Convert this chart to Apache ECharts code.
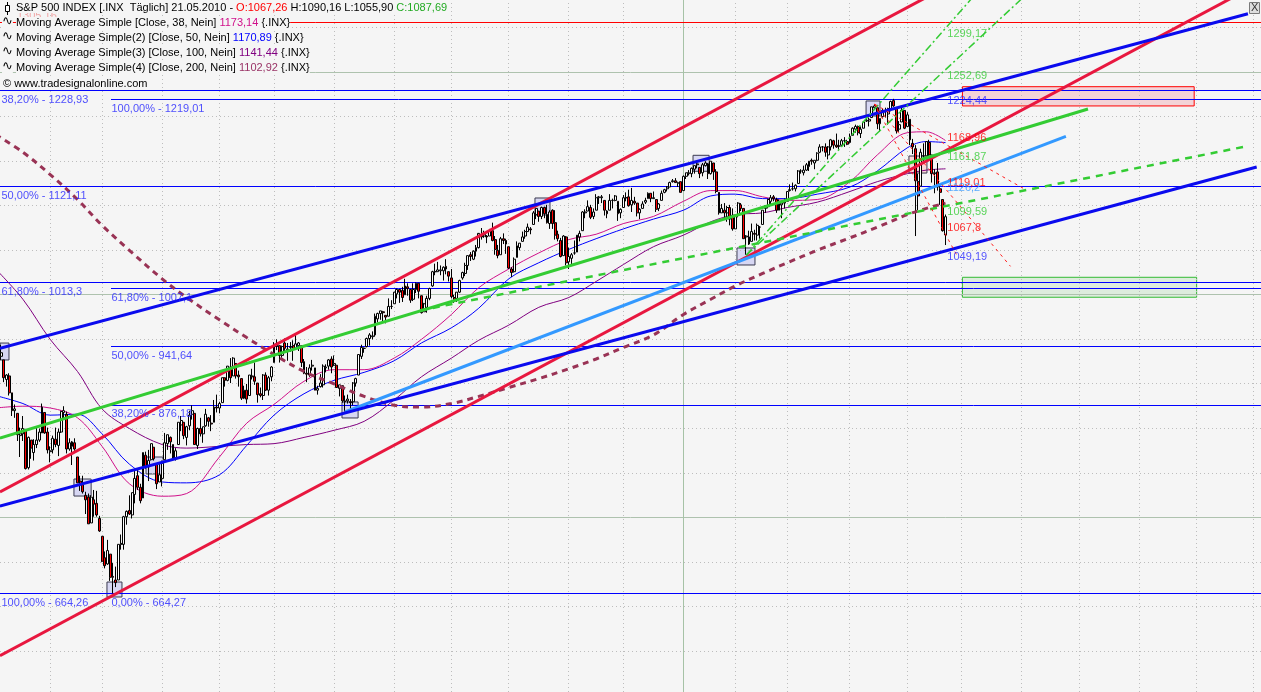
<!DOCTYPE html>
<html><head><meta charset="utf-8">
<script src="https://cdn.jsdelivr.net/npm/echarts@6/dist/echarts.min.js"></script>
<style>html,body{margin:0;padding:0;background:#f5f5f5}#c{width:1261px;height:692px}</style>
</head><body><div id="c"></div><script>
// ---- DATA ----
// daily bars from 2009-01-02, rows [open, high, low, close]
const ohlc = [
[903,934,899,932],[929,936,919,927],[931,944,927,935],[927,927,902,907],[905,911,897,910],[909,912,887,890],[890,890,864,870],[870,877,862,872],[867,867,836,843],[842,851,818,844],
[844,864,836,850],[849,849,804,805],[806,841,804,840],[837,837,816,828],[823,838,814,832],[832,852,828,837],[837,850,835,846],[845,878,845,874],[868,868,844,845],[846,851,822,826],
[824,830,812,825],[826,842,822,839],[838,851,829,832],[831,850,819,846],[846,870,845,869],[868,875,861,870],[866,869,822,827],[827,839,825,834],[830,836,809,835],[834,839,825,827],
[818,818,789,789],[791,797,780,788],[787,797,777,779],[775,779,754,770],[773,777,743,743],[744,775,744,773],[770,781,751,765],[766,780,751,753],[749,752,734,735],[729,729,700,701],
[705,712,693,696],[698,725,697,713],[709,709,679,683],[684,699,665,683],[680,695,672,677],[680,720,680,720],[720,731,714,721],[720,752,714,751],[751,758,742,757],[758,775,753,754],
[753,778,749,778],[776,804,766,794],[797,803,781,784],[784,788,766,769],[772,823,772,823],[820,824,805,806],[807,826,791,814],[815,833,814,833],[829,829,814,816],[810,810,782,788],
[790,810,790,798],[794,814,785,811],[815,845,815,834],[833,843,826,843],[840,841,822,835],[832,832,814,816],[817,828,814,825],[832,857,832,857],[854,864,847,859],[857,857,838,842],
[840,853,831,852],[853,870,848,865],[866,876,860,870],[867,867,832,832],[831,851,827,850],[850,862,841,844],[844,852,834,852],[853,872,852,866],[862,863,852,858],[856,865,847,855],
[857,882,857,874],[874,888,868,873],[873,880,867,878],[879,907,879,907],[907,907,897,904],[904,920,903,920],[919,929,901,907],[909,930,909,929],[923,923,906,909],[910,915,897,908],
[906,906,882,884],[884,898,883,893],[893,900,878,883],[887,910,887,910],[909,917,905,908],[908,924,899,903],[901,901,879,888],[889,896,885,887],[887,911,882,910],[910,913,892,893],
[893,909,887,907],[908,920,903,919],[924,947,924,943],[942,950,938,945],[943,943,924,932],[932,943,928,942],[946,951,935,940],[938,946,926,939],[941,947,936,942],[943,949,926,939],
[940,956,939,945],[943,947,937,946],[943,943,919,924],[925,928,911,912],[912,919,902,911],[910,922,908,918],[920,927,915,921],[918,918,893,893],[893,898,888,895],[897,911,896,901],
[899,922,896,920],[918,922,913,919],[920,928,916,927],[928,931,912,919],[921,932,920,923],[921,921,896,896],[895,899,886,899],[898,898,879,881],[881,887,869,880],[881,888,878,883],
[880,883,872,879],[880,902,876,901],[901,907,897,906],[910,933,910,933],[931,944,928,941],[940,941,935,940],[942,952,941,951],[951,957,943,955],[953,959,950,954],[955,979,953,976],
[973,980,969,979],[979,982,972,982],[981,982,969,980],[977,977,968,975],[976,996,976,987],[987,994,984,987],[990,1003,990,1003],[1001,1007,996,1006],[1006,1006,991,1003],[1005,1009,992,997],
[1000,1018,1000,1010],[1009,1013,999,1007],[1006,1006,991,994],[995,1013,993,1006],[1006,1014,1002,1013],[1013,1013,996,1004],[999,999,979,980],[981,991,981,990],[986,999,980,996],[996,1008,994,1007],
[1010,1027,1009,1026],[1026,1035,1022,1026],[1026,1037,1026,1028],[1027,1033,1022,1028],[1027,1032,1016,1031],[1032,1040,1023,1029],[1026,1026,1015,1021],[1019,1029,996,998],[997,1000,991,995],[996,1003,992,1003],
[1003,1017,1002,1016],[1019,1026,1017,1025],[1024,1036,1021,1033],[1033,1044,1028,1044],[1045,1048,1038,1043],[1040,1050,1039,1049],[1049,1056,1043,1053],[1053,1068,1052,1069],[1067,1075,1062,1065],[1066,1072,1064,1068],
[1066,1067,1058,1065],[1066,1074,1066,1072],[1072,1081,1060,1061],[1062,1066,1045,1051],[1050,1056,1041,1044],[1045,1065,1045,1063],[1063,1069,1057,1061],[1061,1063,1046,1057],[1054,1054,1029,1030],[1029,1031,1020,1025],
[1026,1042,1025,1040],[1042,1060,1042,1055],[1053,1058,1050,1058],[1060,1071,1060,1065],[1066,1073,1063,1071],[1071,1080,1071,1076],[1074,1076,1068,1073],[1079,1094,1079,1092],[1090,1097,1085,1097],[1094,1094,1082,1088],
[1088,1099,1085,1098],[1098,1099,1086,1091],[1090,1101,1080,1081],[1080,1095,1074,1093],[1095,1096,1074,1080],[1081,1095,1062,1067],[1068,1072,1060,1063],[1061,1064,1042,1043],[1044,1067,1044,1066],[1065,1066,1033,1036],
[1037,1053,1029,1043],[1041,1047,1034,1045],[1047,1061,1045,1047],[1048,1067,1048,1067],[1065,1072,1060,1069],[1072,1094,1072,1093],[1092,1096,1086,1093],[1094,1106,1094,1099],[1098,1101,1085,1087],[1088,1097,1085,1093],
[1095,1113,1095,1109],[1109,1111,1102,1110],[1109,1112,1103,1110],[1106,1106,1089,1095],[1094,1095,1086,1091],[1095,1113,1095,1106],[1106,1108,1097,1106],[1106,1112,1105,1111],[1105,1105,1083,1091],[1092,1097,1086,1096],
[1098,1112,1098,1109],[1109,1115,1105,1109],[1110,1118,1099,1100],[1101,1120,1093,1106],[1105,1110,1101,1103],[1103,1103,1088,1092],[1092,1097,1085,1096],[1097,1105,1097,1102],[1104,1109,1102,1106],[1108,1115,1108,1114],
[1114,1114,1104,1108],[1108,1116,1108,1109],[1107,1107,1093,1096],[1097,1103,1094,1102],[1106,1117,1106,1114],[1115,1119,1114,1118],[1119,1122,1116,1121],[1121,1127,1121,1126],[1127,1130,1126,1128],[1128,1131,1126,1126],
[1125,1127,1121,1126],[1127,1127,1115,1115],[1117,1134,1117,1133],[1133,1137,1130,1137],[1136,1140,1134,1137],[1136,1143,1132,1142],[1141,1145,1136,1145],[1146,1150,1142,1147],[1143,1143,1131,1136],[1137,1148,1133,1146],
[1145,1150,1144,1148],[1147,1148,1130,1136],[1136,1150,1135,1150],[1148,1148,1129,1138],[1138,1141,1114,1116],[1115,1115,1090,1092],[1092,1102,1092,1097],[1095,1103,1086,1092],[1092,1100,1082,1098],[1098,1101,1078,1085],
[1087,1097,1072,1074],[1074,1090,1074,1089],[1090,1104,1087,1103],[1101,1103,1094,1097],[1097,1097,1063,1063],[1065,1067,1045,1066],[1065,1072,1056,1057],[1060,1080,1060,1071],[1069,1073,1061,1068],[1067,1080,1061,1078],
[1076,1077,1063,1076],[1079,1095,1079,1095],[1097,1100,1092,1100],[1099,1108,1097,1107],[1105,1112,1101,1109],[1110,1112,1105,1108],[1107,1109,1092,1095],[1095,1107,1095,1105],[1101,1103,1086,1103],[1103,1108,1097,1104],
[1105,1116,1105,1116],[1117,1124,1116,1118],[1119,1126,1117,1119],[1119,1124,1116,1123],[1125,1140,1125,1139],[1139,1141,1136,1139],[1137,1145,1134,1140],[1140,1148,1139,1146],[1144,1150,1139,1150],[1151,1153,1146,1150],
[1148,1151,1141,1151],[1151,1160,1150,1159],[1160,1169,1159,1166],[1166,1167,1161,1166],[1166,1170,1155,1160],[1157,1167,1152,1166],[1166,1175,1162,1174],[1173,1174,1164,1168],[1168,1181,1165,1166],[1167,1174,1163,1167],
[1168,1175,1167,1173],[1173,1177,1166,1173],[1172,1174,1168,1169],[1171,1181,1170,1178],[1179,1188,1179,1187],[1186,1191,1182,1189],[1189,1190,1179,1182],[1181,1189,1176,1186],[1187,1194,1187,1194],[1195,1200,1194,1196],
[1195,1199,1189,1197],[1199,1211,1199,1211],[1210,1214,1208,1212],[1210,1210,1186,1192],[1192,1198,1183,1198],[1200,1209,1199,1207],[1207,1210,1199,1206],[1203,1210,1191,1209],[1208,1218,1206,1217],[1218,1220,1211,1212],
[1210,1211,1181,1184],[1186,1195,1183,1191],[1194,1210,1194,1207],[1207,1207,1186,1187],[1189,1205,1189,1202],[1197,1197,1168,1174],[1170,1175,1158,1166],[1164,1168,1066,1128],[1127,1136,1095,1111],[1122,1164,1122,1160],
[1156,1170,1148,1156],[1156,1172,1156,1172],[1171,1174,1156,1157],[1157,1157,1126,1136],[1136,1141,1114,1137],[1138,1148,1117,1121],[1119,1124,1101,1115],[1107,1107,1071,1072],[1067.26,1090.16,1055.90,1087.69]
];
const holidays = ['2009-01-19','2009-02-16','2009-04-10','2009-05-25','2009-07-03','2009-09-07','2009-11-26','2009-12-25','2010-01-01','2010-01-18','2010-02-15','2010-04-02','2010-05-31','2010-07-05','2010-09-06','2010-11-25'];

// moving averages sampled at bar indices
const maIdx  = [0,10,20,30,39,49,61,70,82,92,102,113,124,135,146,156,167,177,188,199,210,220,230,241,252,262,271,281,290,301,313,323,334,341,348];
const ma38   = [873,875,873,862,830,788,774,777,818,856,877,903,916,916,929,950,978,1008,1029,1047,1062,1068,1080,1088,1105,1117,1117,1110,1106,1107,1127,1157,1182,1183,1173.14];
const ma50   = [887,878,865,866,844,810,790,789,798,831,865,889,904,913,926,946,963,985,1018,1036,1051,1063,1074,1085,1095,1111,1113,1108,1108,1113,1121,1139,1165,1172,1170.89];
const ma100  = [1029,995,950,914,872,850,832,828,830,832,833,840,848,858,882,908,929,949,966,986,997,1015,1034,1054,1067,1082,1090,1092,1098,1104,1116,1127,1136,1140,1141.44];
const ma200  = [1180,1160,1135,1107,1078,1050,1018,997,972,952,933,914,900,886,876,874,878,886,896,906,917,928,941,955,978,995,1010,1024,1036,1050,1064,1076,1090,1097,1102.92];

// fibonacci retracements
const fibALevels = [1228.93, 1121.11, 1013.3, 664.26];
const fibAPct    = ['38,20%','50,00%','61,80%','100,00%'];
const fibBLevels = [1219.01, 1007.1, 941.64, 876.18, 664.27];
const fibBPct    = ['100,00%','61,80%','50,00%','38,20%','0,00%'];
const hLine1305  = 1305.16;

// trend lines [barIndex, price]
const upperBlue  = [[1.6, 940.0], [458.8, 1315.4]];
const lowerBlue  = [[1.6, 762.9], [462.0, 1143.4]];
const upperRed   = [[1.6, 778.7], [345.0, 1340.5]];
const lowerRed   = [[1.6, 595.0], [455.0, 1336.7]];
const greenLine  = [[1.6, 839.3], [400.2, 1208.6]];
const lightBlue  = [[128.0, 868.5], [392.1, 1177.9]];
const greenDash  = [[155.5, 982.5], [457.0, 1165.9]];
const greenFan1  = [[275, 1044.5], [358, 1334.1]];
const greenFan2  = [[275, 1044.5], [377, 1335.4]];
const redFan1    = [[322, 1214.0], [376.4, 1119.7]];
const redFan2    = [[322, 1214.0], [371.8, 1032.0]];
const redFan3    = [[322, 1214.0], [352.5, 1042.5]];

// values written at the last bar
const endLabels  = [1299.17, 1252.69, 1224.44, 1168.96, 1161.87, 1119.01, 1126.2, 1099.59, 1067.8, 1049.19];
const endLabelKinds = ['g','g','b','r','g','r','lb','g','r','b'];

// zones and pivot boxes [bar0, bar1, priceLow, priceHigh]
const redZone   = [354.2, 439.1, 1212.0, 1233.6];
const greenZone = [354.2, 440.0, 997.3, 1019.7];
const pivotBoxes = [[-1.0,4.9,926.9,945.9],[28.7,35.0,774.2,793.3],[40.8,46.3,660.9,677.7],[55.1,61.3,799,818],[126.9,132.8,861.8,879.8],[197.6,203.1,1089.6,1108.7],[255.5,261.4,1138.7,1156.6],[271.6,278.2,1033.5,1052.6],[318.9,324.0,1200.7,1217.6]];
const pinkBox = [334.6, 341.2, 1136.7, 1155.8];

const dottedLevels = [600,650,700,800,850,900,950,1050,1100,1150,1200,1300];
const solidLevels  = [750,1000,1250];

// ---- BUILD ----
const dates = [];
{ let t = Date.UTC(2009,0,2);
  while (dates.length < 480) { const d = new Date(t); const w = d.getUTCDay(); const s = d.toISOString().slice(0,10);
    if (w !== 0 && w !== 6 && holidays.indexOf(s) < 0) dates.push(s); t += 86400000; } }
const monthStarts = [], yearStarts = [];
for (let i = 1; i < dates.length; i++) {
  if (dates[i].slice(0,7) !== dates[i-1].slice(0,7)) { (dates[i].slice(5,7) === '01' ? yearStarts : monthStarts).push(i); }
}
const X0 = 1.612, X1 = 463.58, Y0 = 554.27, Y1 = 1330.9;
const FONT = 'Liberation Sans';
const fmt = v => String(v).replace('.', ',');
const fmt2 = v => v.toFixed(2).replace('.', ',');
const pxToIdx = px => X0 + px * (X1 - X0) / 1261;

// segment styles: 0 dotted grid, 1 solid grid, 2 fib blue, 3 red level, 4 year line
const segStyles = [
  {c: '#bdbdbd', d: [1, 3]},
  {c: '#aec2ae', d: null},
  {c: '#0000ff', d: null},
  {c: '#ff0000', d: null},
  {c: '#a6c2a6', d: null}
];
const gridSegs = [], levelSegs = [];
dottedLevels.forEach(v => gridSegs.push([X0, v, X1, v, 0]));
solidLevels.forEach(v => gridSegs.push([X0, v, X1, v, 1]));
monthStarts.forEach(i => gridSegs.push([i, Y0, i, Y1, 0]));
yearStarts.forEach(i => gridSegs.push([i, Y0, i, Y1, 4]));
fibALevels.forEach(v => levelSegs.push([X0, v, X1, v, 2]));
fibBLevels.forEach(v => levelSegs.push([pxToIdx(111), v, X1, v, 2]));
levelSegs.push([X0, hLine1305, X1, hLine1305, 3]);

function segItem(params, api) {
  const a = api.coord([api.value(0), api.value(1)]), b = api.coord([api.value(2), api.value(3)]);
  const st = segStyles[api.value(4)];
  let x1 = a[0], y1 = a[1], x2 = b[0], y2 = b[1];
  if (Math.abs(y1 - y2) < 0.01) { y1 = y2 = Math.floor(y1) + 0.5; }
  if (Math.abs(x1 - x2) < 0.01) { x1 = x2 = Math.floor(x1) + 0.5; }
  return {type: 'line', silent: true, shape: {x1: x1, y1: y1, x2: x2, y2: y2},
    style: {stroke: st.c, lineWidth: 1, lineDash: st.d, fill: null}};
}
function segSeries(data, z) {
  return {type: 'custom', z: z, silent: true, clip: false, renderItem: segItem, data: data,
    encode: {x: [0, 2], y: [1, 3]}, animation: false};
}

const fibLabelData = [];
fibALevels.forEach((v, i) => fibLabelData.push({value: [pxToIdx(1), v], label: {formatter: fibAPct[i] + ' - ' + fmt(v)}}));
fibBLevels.forEach((v, i) => fibLabelData.push({value: [pxToIdx(111), v], label: {formatter: fibBPct[i] + ' - ' + fmt(v)}}));

const kindColor = {g: '#33cc33', b: '#2a2aff', r: '#ff0000', lb: '#3399ff'};
const endLabelData = endLabels.map((v, i) => ({value: [348.5, v], label: {formatter: fmt(v), color: kindColor[endLabelKinds[i]], offset: [0, endLabelKinds[i] === 'r' ? -6 : 6]}}));

function lineSeries(pts, color, width, type, z) {
  return {type: 'line', data: pts, showSymbol: false, symbol: 'none', silent: true, z: z || 5,
    lineStyle: {color: color, width: width, type: type || 'solid'}};
}
function maSeries(vals, color, width, type, z) {
  return {type: 'line', data: maIdx.map((x, i) => [x, vals[i]]), smooth: 0.35, showSymbol: false, symbol: 'none', silent: true, z: z || 3,
    lineStyle: {color: color, width: width, type: type || 'solid'}};
}
const boxArea = b => [{coord: [b[0], b[3]]}, {coord: [b[1], b[2]]}];

const last = ohlc[ohlc.length - 1];
const chart = echarts.init(document.getElementById('c'), null, {renderer: 'canvas'});
chart.setOption({
  animation: false,
  backgroundColor: '#f5f5f5',
  grid: {left: 0, right: 0, top: 0, bottom: 0},
  xAxis: {type: 'value', min: X0, max: X1, show: false},
  yAxis: {type: 'value', min: Y0, max: Y1, show: false, scale: true},
  series: [
    segSeries(gridSegs, 1),
    segSeries(levelSegs, 2),
    maSeries(ma100, '#800080', 1),
    maSeries(ma50, '#0000ff', 1),
    maSeries(ma38, '#d0108a', 1),
    {type: 'candlestick', z: 4, silent: true, barWidth: 2.4,
      data: ohlc.map((r, i) => [i, r[0], r[3], r[2], r[1]]),
      encode: {x: 0, y: [1, 2, 3, 4]},
      itemStyle: {color: '#ffffff', color0: '#ff0000', borderColor: '#000000', borderColor0: '#000000', borderWidth: 1}},
    maSeries(ma200, '#993355', 3, [6, 5], 5),
    lineSeries(lowerRed, '#e8173f', 3),
    lineSeries(upperRed, '#e8173f', 3),
    lineSeries(greenLine, '#33cc33', 3),
    lineSeries(lightBlue, '#3399ff', 3),
    lineSeries(greenDash, '#33cc33', 2.5, [7, 6]),
    lineSeries(upperBlue, '#0a0aee', 3),
    lineSeries(lowerBlue, '#0a0aee', 3),
    lineSeries(greenFan1, '#33cc33', 1.5, [8, 3, 2, 3]),
    lineSeries(greenFan2, '#33cc33', 1.5, [8, 3, 2, 3]),
    lineSeries(redFan1, '#ff2020', 1, [3, 4]),
    lineSeries(redFan2, '#ff2020', 1, [3, 4]),
    lineSeries(redFan3, '#ff2020', 1, [3, 4]),
    {type: 'line', data: [], z: 6, silent: true,
      markArea: {silent: true, label: {show: false},
        itemStyle: {color: 'rgba(190,190,240,0.55)', borderColor: '#3a3a50', borderWidth: 1},
        data: pivotBoxes.map(boxArea).concat([
          [{coord: [pinkBox[0], pinkBox[3]], itemStyle: {color: 'rgba(255,190,190,0.55)', borderColor: '#3a3a50', borderWidth: 1}}, {coord: [pinkBox[1], pinkBox[2]]}],
          [{coord: [redZone[0], redZone[3]], itemStyle: {color: 'rgba(240,150,160,0.35)', borderColor: '#ff0000', borderWidth: 1}}, {coord: [redZone[1], redZone[2]]}],
          [{coord: [greenZone[0], greenZone[3]], itemStyle: {color: 'rgba(150,210,150,0.25)', borderColor: '#33bb33', borderWidth: 1}}, {coord: [greenZone[1], greenZone[2]]}]
        ])}},
    {type: 'scatter', z: 7, silent: true, symbolSize: 1, itemStyle: {color: 'rgba(0,0,0,0)'},
      label: {show: true, position: 'right', distance: 0, offset: [0, 9], color: '#2424ff', fontSize: 11, fontFamily: FONT},
      data: fibLabelData},
    {type: 'scatter', z: 7, silent: true, symbolSize: 1, itemStyle: {color: 'rgba(0,0,0,0)'},
      label: {show: true, position: 'right', distance: 0, fontSize: 11, fontFamily: FONT},
      data: endLabelData}
  ],
  graphic: [
    {type: 'text', left: 17, top: 10, z: 9, style: {text: fmt(hLine1305), fill: '#f0a8a8', font: '11px ' + FONT}},
    {type: 'text', left: 16, top: 2, z: 10, style: {
      text: '{n|S&P 500 INDEX [.INX  Täglich] 21.05.2010 - }{r|O:' + fmt2(last[0]) + '}{n| H:' + fmt2(last[1]) + ' L:' + fmt2(last[2]) + ' }{g|C:' + fmt2(last[3]) + '}',
      backgroundColor: '#f5f5f5', font: '11px ' + FONT,
      rich: {n: {fill: '#000', font: '11px ' + FONT}, r: {fill: '#ff0000', font: '11px ' + FONT}, g: {fill: '#22aa22', font: '11px ' + FONT}}}},
    {type: 'line', z: 10, shape: {x1: 7.5, y1: 2, x2: 7.5, y2: 15}, style: {stroke: '#000', lineWidth: 1}},
    {type: 'rect', z: 10, shape: {x: 5.5, y: 5.5, width: 4, height: 6}, style: {fill: '#fff', stroke: '#000', lineWidth: 1}},
    ...[['Moving Average Simple [Close, 38, Nein] ', ma38, '#d0108a'],
        ['Moving Average Simple(2) [Close, 50, Nein] ', ma50, '#0000ff'],
        ['Moving Average Simple(3) [Close, 100, Nein] ', ma100, '#800080'],
        ['Moving Average Simple(4) [Close, 200, Nein] ', ma200, '#993366']].flatMap((m, k) => [
      {type: 'text', left: 2, top: 15 + k * 15, z: 10, style: {text: '∿', fill: '#000', font: '13px DejaVu Sans', backgroundColor: '#f5f5f5'}},
      {type: 'text', left: 16, top: 17 + k * 15, z: 10, style: {
        text: '{n|' + m[0] + '}{v|' + fmt2(m[1][m[1].length - 1]) + '}{n| {.INX}}',
        backgroundColor: '#f5f5f5', font: '11px ' + FONT,
        rich: {n: {fill: '#000', font: '11px ' + FONT}, v: {fill: m[2], font: '11px ' + FONT}}}}
    ]),
    {type: 'text', left: 3, top: 78, z: 10, style: {text: '© www.tradesignalonline.com', fill: '#000', font: '11px ' + FONT, backgroundColor: '#f5f5f5'}},
    {type: 'rect', z: 10, shape: {x: 1249.5, y: 2.5, width: 10, height: 11}, style: {fill: '#dedede', stroke: '#7a7a7a', lineWidth: 1}},
    {type: 'text', left: 1251, top: 2, z: 11, style: {text: 'X', fill: '#333', font: '11px ' + FONT}}
  ]
});
</script></body></html>
